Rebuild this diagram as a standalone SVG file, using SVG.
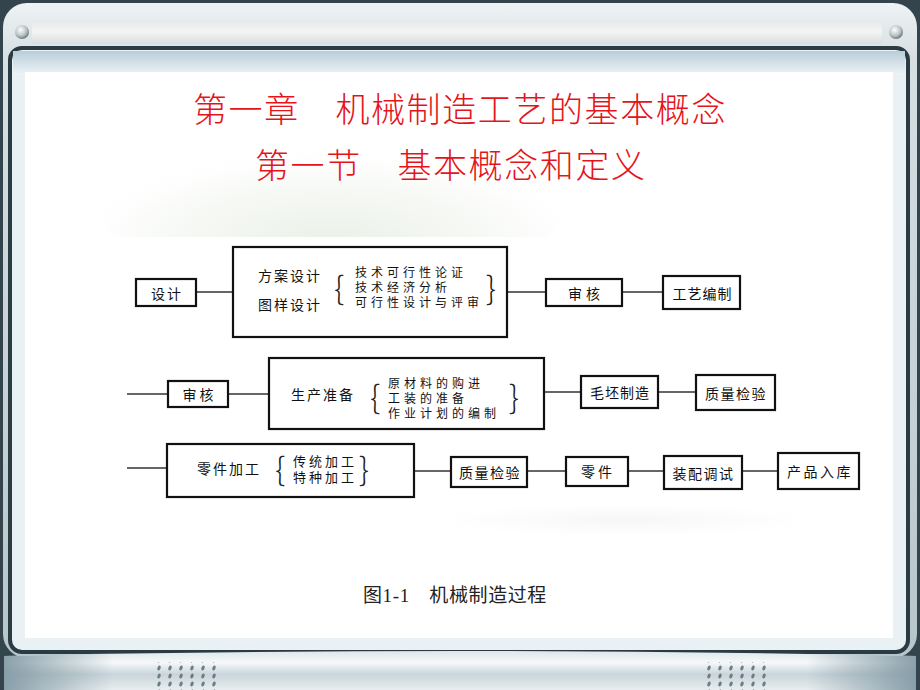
<svg xmlns="http://www.w3.org/2000/svg" width="920" height="690" viewBox="0 0 920 690">
  <style>
    .box { fill: #ffffff; stroke: #111111; stroke-width: 2.2; }
    .conn { stroke: #333333; stroke-width: 1.3; fill: none; }
    .lbl { font-family: "Noto Sans CJK SC", "Liberation Sans", sans-serif; font-size: 14px; fill: #111111; dominant-baseline: central; letter-spacing: 2px; }
    .mid { text-anchor: middle; }
    .sub { font-family: "Noto Sans CJK SC", "Liberation Sans", sans-serif; font-size: 12px; fill: #111111; dominant-baseline: central; letter-spacing: 4px; }
    .brace { font-family: "Noto Sans CJK SC", "DejaVu Sans", sans-serif; font-size: 32px; font-weight: 200; fill: #222222; dominant-baseline: central; }
    .title { font-family: "Noto Sans CJK SC", sans-serif; font-size: 34px; font-weight: 300; fill: #e5141b; dominant-baseline: central; letter-spacing: 1.6px; }
    .cap { font-family: "Liberation Serif", "Noto Sans CJK SC", serif; font-size: 19px; fill: #222222; dominant-baseline: central; letter-spacing: 0.6px; }
  </style>
  <defs>
    <linearGradient id="bezel" x1="0" y1="0" x2="0" y2="1">
      <stop offset="0" stop-color="#eef3f4"/>
      <stop offset="0.08" stop-color="#d7e0e3"/>
      <stop offset="1" stop-color="#b7c6cc"/>
    </linearGradient>
    <linearGradient id="topband" x1="0" y1="0" x2="0" y2="1">
      <stop offset="0" stop-color="#e6e9ea"/>
      <stop offset="0.5" stop-color="#f3f4f4"/>
      <stop offset="1" stop-color="#d9dddd"/>
    </linearGradient>
    <linearGradient id="screenTop" x1="0" y1="0" x2="0" y2="1">
      <stop offset="0" stop-color="#b9cdd8"/>
      <stop offset="1" stop-color="#eef4f8"/>
    </linearGradient>
    <linearGradient id="base" x1="0" y1="0" x2="0" y2="1">
      <stop offset="0" stop-color="#dfe7ea"/>
      <stop offset="0.3" stop-color="#f5f8f9"/>
      <stop offset="0.6" stop-color="#c9d5da"/>
      <stop offset="1" stop-color="#e8eef0"/>
    </linearGradient>
    <linearGradient id="baseSide" x1="0" y1="0" x2="1" y2="0">
      <stop offset="0" stop-color="#7f97a2" stop-opacity="0.9"/>
      <stop offset="0.12" stop-color="#7f97a2" stop-opacity="0"/>
      <stop offset="0.88" stop-color="#7f97a2" stop-opacity="0"/>
      <stop offset="1" stop-color="#7f97a2" stop-opacity="0.9"/>
    </linearGradient>
    <radialGradient id="screw" cx="0.4" cy="0.35" r="0.7">
      <stop offset="0" stop-color="#ffffff"/>
      <stop offset="0.6" stop-color="#b9c3c6"/>
      <stop offset="1" stop-color="#5d6c72"/>
    </radialGradient>
    <radialGradient id="leaf" cx="0.5" cy="0.7" r="0.55">
      <stop offset="0" stop-color="#e8eee5" stop-opacity="0.9"/>
      <stop offset="0.6" stop-color="#edf2ea" stop-opacity="0.5"/>
      <stop offset="1" stop-color="#f4f7f2" stop-opacity="0"/>
    </radialGradient>
    <radialGradient id="haze" cx="0.5" cy="0.5" r="0.5">
      <stop offset="0" stop-color="#f5f6f5" stop-opacity="1"/>
      <stop offset="1" stop-color="#f8f8f8" stop-opacity="0"/>
    </radialGradient>
    <pattern id="grill" x="0" y="0" width="11" height="8" patternUnits="userSpaceOnUse">
      <ellipse cx="5" cy="4" rx="1.6" ry="2.6" fill="#6d7f86" transform="rotate(20 5 4)"/>
    </pattern>
  </defs>

  <!-- monitor frame -->
  <rect x="0" y="0" width="920" height="690" fill="#34444c"/>
  <rect x="3" y="3" width="914" height="655" rx="24" fill="url(#bezel)"/>
  <rect x="32" y="20" width="850" height="24" fill="url(#topband)"/>
  <circle cx="22" cy="32" r="7" fill="url(#screw)"/>
  <circle cx="896" cy="32" r="7" fill="url(#screw)"/>
  <rect x="10" y="48" width="898" height="604" rx="12" fill="#e9f1f5" stroke="#2b3b43" stroke-width="4"/>
  <rect x="13" y="51" width="892" height="24" fill="url(#screenTop)"/>
  <rect x="25" y="72" width="868" height="566" fill="#ffffff"/>
  <path d="M4 656 Q460 646 916 656 L916 690 L4 690 Z" fill="url(#base)"/>
  <path d="M4 656 Q460 646 916 656 L916 690 L4 690 Z" fill="url(#baseSide)"/>
  <rect x="157" y="662" width="62" height="28" fill="url(#grill)"/>
  <rect x="704" y="662" width="62" height="28" fill="url(#grill)"/>

  <!-- faint background decorations -->
  <ellipse cx="330" cy="210" rx="230" ry="85" fill="url(#leaf)"/>
  <ellipse cx="625" cy="520" rx="190" ry="16" fill="url(#haze)"/>
  <rect x="115" y="237" width="760" height="268" fill="#ffffff"/>

  <!-- titles -->
  <text class="title" x="193" y="107">第一章　机械制造工艺的基本概念</text>
  <text class="title" x="255" y="163">第一节　基本概念和定义</text>

  <!-- connectors -->
  <g id="connectors">
    <line class="conn" x1="196" y1="292" x2="233" y2="292"/>
    <line class="conn" x1="507" y1="292" x2="546" y2="292"/>
    <line class="conn" x1="622" y1="292" x2="663" y2="292"/>
    <line class="conn" x1="127" y1="394" x2="168" y2="394"/>
    <line class="conn" x1="228" y1="394" x2="269" y2="394"/>
    <line class="conn" x1="544" y1="392" x2="581" y2="392"/>
    <line class="conn" x1="658" y1="392" x2="696" y2="392"/>
    <line class="conn" x1="127" y1="468" x2="167" y2="468"/>
    <line class="conn" x1="414" y1="471" x2="451" y2="471"/>
    <line class="conn" x1="527" y1="471" x2="566" y2="471"/>
    <line class="conn" x1="628" y1="471" x2="664" y2="471"/>
    <line class="conn" x1="742" y1="471" x2="778" y2="471"/>
  </g>

  <!-- row 1 -->
  <g id="n-design">
    <rect class="box" x="136" y="279" width="60" height="27"/>
    <text class="lbl mid" x="167" y="292.5">设计</text>
  </g>
  <g id="n-plan">
    <rect class="box" x="233" y="247" width="274" height="90"/>
    <text class="lbl" x="258" y="275">方案设计</text>
    <text class="lbl" x="258" y="304">图样设计</text>
    <text class="brace" x="334" y="286">{</text>
    <text class="sub" x="355" y="271">技术可行性论证</text>
    <text class="sub" x="355" y="286">技术经济分析</text>
    <text class="sub" x="355" y="301">可行性设计与评审</text>
    <text class="brace" x="486" y="286">}</text>
  </g>
  <g id="n-review1">
    <rect class="box" x="546" y="279" width="76" height="27"/>
    <text class="lbl mid" x="586" y="292.5" style="letter-spacing:4px">审核</text>
  </g>
  <g id="n-process">
    <rect class="box" x="663" y="276" width="77" height="33"/>
    <text class="lbl mid" x="702.5" y="292.5" style="letter-spacing:1px">工艺编制</text>
  </g>

  <!-- row 2 -->
  <g id="n-review2">
    <rect class="box" x="168" y="381" width="60" height="26"/>
    <text class="lbl mid" x="199.5" y="394" style="letter-spacing:3px">审核</text>
  </g>
  <g id="n-prep">
    <rect class="box" x="269" y="358" width="275" height="71"/>
    <text class="lbl" x="291" y="394">生产准备</text>
    <text class="brace" x="370" y="395">{</text>
    <text class="sub" x="388" y="382">原材料的购进</text>
    <text class="sub" x="388" y="397">工装的准备</text>
    <text class="sub" x="388" y="412">作业计划的编制</text>
    <text class="brace" x="509" y="395">}</text>
  </g>
  <g id="n-blank">
    <rect class="box" x="581" y="376" width="77" height="32"/>
    <text class="lbl mid" x="620" y="392" style="letter-spacing:1px">毛坯制造</text>
  </g>
  <g id="n-qc1">
    <rect class="box" x="696" y="375" width="79" height="35"/>
    <text class="lbl mid" x="736" y="392.5" style="letter-spacing:1.5px">质量检验</text>
  </g>

  <!-- row 3 -->
  <g id="n-machining">
    <rect class="box" x="167" y="444" width="247" height="53"/>
    <text class="lbl" x="197" y="468">零件加工</text>
    <text class="brace" x="275" y="467">{</text>
    <text class="sub" x="293" y="460" style="letter-spacing:3px;font-size:13px">传统加工</text>
    <text class="sub" x="293" y="476" style="letter-spacing:3px;font-size:13px">特种加工</text>
    <text class="brace" x="359" y="467">}</text>
  </g>
  <g id="n-qc2">
    <rect class="box" x="451" y="457" width="76" height="30"/>
    <text class="lbl mid" x="490" y="472" style="letter-spacing:1.5px">质量检验</text>
  </g>
  <g id="n-part">
    <rect class="box" x="566" y="457" width="62" height="29"/>
    <text class="lbl mid" x="598" y="471" style="letter-spacing:3px">零件</text>
  </g>
  <g id="n-assembly">
    <rect class="box" x="664" y="456" width="78" height="33"/>
    <text class="lbl mid" x="703.5" y="472.5" style="letter-spacing:1.5px">装配调试</text>
  </g>
  <g id="n-storage">
    <rect class="box" x="778" y="453" width="81" height="36"/>
    <text class="lbl mid" x="820" y="471" style="letter-spacing:2.5px">产品入库</text>
  </g>

  <!-- caption -->
  <text class="cap" x="363" y="595">图1-1　机械制造过程</text>
</svg>
